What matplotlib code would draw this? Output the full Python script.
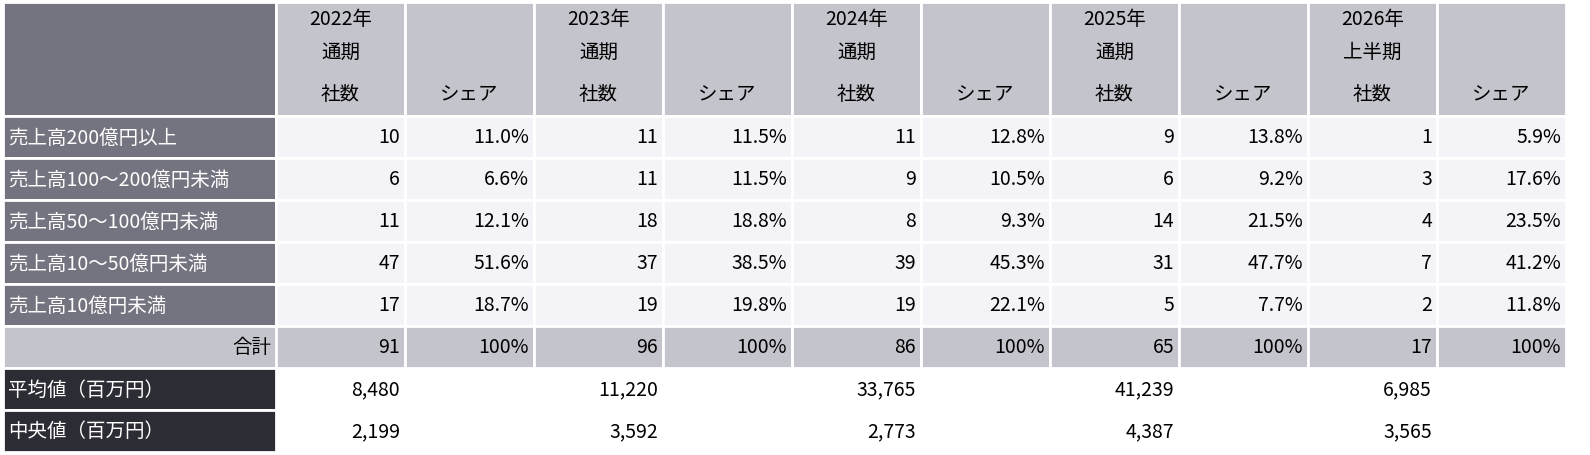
import matplotlib.pyplot as plt
from matplotlib.patches import Rectangle

plt.rcParams['font.family'] = ['Noto Sans CJK JP', 'DejaVu Sans']

periods = ['2022年\n通期', '2023年\n通期', '2024年\n通期', '2025年\n通期', '2026年\n上半期']
categories = ['売上高200億円以上', '売上高100～200億円未満', '売上高50～100億円未満',
              '売上高10～50億円未満', '売上高10億円未満']
counts = [[10, 6, 11, 47, 17],
          [11, 11, 18, 37, 19],
          [11, 9, 8, 39, 19],
          [9, 6, 14, 31, 5],
          [1, 3, 4, 7, 2]]
shares = [['11.0%', '6.6%', '12.1%', '51.6%', '18.7%'],
          ['11.5%', '11.5%', '18.8%', '38.5%', '19.8%'],
          ['12.8%', '10.5%', '9.3%', '45.3%', '22.1%'],
          ['13.8%', '9.2%', '21.5%', '47.7%', '7.7%'],
          ['5.9%', '17.6%', '23.5%', '41.2%', '11.8%']]
totals = [91, 96, 86, 65, 17]
means = ['8,480', '11,220', '33,765', '41,239', '6,985']
medians = ['2,199', '3,592', '2,773', '4,387', '3,565']

fig = plt.figure(figsize=(15.9, 4.56), dpi=100)
ax = fig.add_axes([0, 0, 1, 1])
ax.set_xlim(0, 1590)
ax.set_ylim(456, 0)
ax.axis('off')

DARK = '#747480'
LIGHT = '#c4c4cc'
CELL = '#f4f4f8'
BLACK = '#2c2c34'
x0, x1 = 3, 276
cw = (1566 - x1) / 10
row_y = [117, 159, 201, 243, 285, 327, 369, 411, 453]
head_top = 3
fs = 14


def cell(x, y, w, h, color):
    ax.add_patch(Rectangle((x, y), w, h, facecolor=color, edgecolor='white', linewidth=2))


# header
cell(x0, head_top, x1 - x0, row_y[0] - head_top, DARK)
for i, p in enumerate(periods):
    xa = x1 + 2 * i * cw
    cell(xa, head_top, cw, row_y[0] - head_top, LIGHT)
    cell(xa + cw, head_top, cw, row_y[0] - head_top, LIGHT)
    ax.text(xa + cw / 2, 36, p, ha='center', va='center', fontsize=fs, linespacing=1.75)
    ax.text(xa + cw / 2, 95, '社数', ha='center', va='center', fontsize=fs)
    ax.text(xa + 1.5 * cw, 95, 'シェア', ha='center', va='center', fontsize=fs)

# category rows
for r, cat in enumerate(categories):
    y, h = row_y[r], row_y[r + 1] - row_y[r]
    cell(x0, y, x1 - x0, h, DARK)
    ax.text(x0 + 5, y + h / 2, cat, ha='left', va='center', fontsize=fs, color='white')
    for i in range(len(periods)):
        xa = x1 + 2 * i * cw
        cell(xa, y, cw, h, CELL)
        cell(xa + cw, y, cw, h, CELL)
        ax.text(xa + cw - 5, y + h / 2, str(counts[i][r]), ha='right', va='center', fontsize=fs)
        ax.text(xa + 2 * cw - 5, y + h / 2, shares[i][r], ha='right', va='center', fontsize=fs)

# total row
y, h = row_y[5], row_y[6] - row_y[5]
cell(x0, y, x1 - x0, h, LIGHT)
ax.text(x1 - 5, y + h / 2, '合計', ha='right', va='center', fontsize=fs)
for i, t in enumerate(totals):
    xa = x1 + 2 * i * cw
    cell(xa, y, cw, h, LIGHT)
    cell(xa + cw, y, cw, h, LIGHT)
    ax.text(xa + cw - 5, y + h / 2, str(t), ha='right', va='center', fontsize=fs)
    ax.text(xa + 2 * cw - 5, y + h / 2, '100%', ha='right', va='center', fontsize=fs)

# mean / median rows
for k, (label, vals) in enumerate([('平均値（百万円）', means), ('中央値（百万円）', medians)]):
    y, h = row_y[6 + k], row_y[7 + k] - row_y[6 + k]
    cell(x0, y, x1 - x0, h, BLACK)
    ax.text(x0 + 5, y + h / 2, label, ha='left', va='center', fontsize=fs, color='white')
    for i, v in enumerate(vals):
        xa = x1 + 2 * i * cw
        ax.text(xa + cw - 5, y + h / 2, v, ha='right', va='center', fontsize=fs)

fig.savefig('out.png', dpi=100, facecolor='white')
